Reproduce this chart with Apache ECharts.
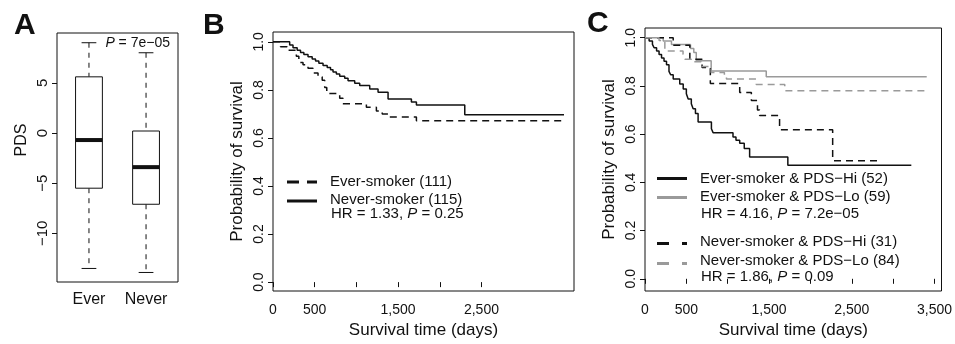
<!DOCTYPE html>
<html>
<head>
<meta charset="utf-8">
<script src="https://cdn.jsdelivr.net/npm/echarts@6/dist/echarts.min.js"></script>
<style>
  html, body { margin: 0; padding: 0; background: #fff; }
  #chart { width: 955px; height: 344px; }
</style>
</head>
<body>
<div id="chart"></div>
<script>
// ---- panel A: PDS boxplots ----
const groups = ['Ever', 'Never'];
const whiskerLow = [-13.5, -13.9];
const q1 = [-5.5, -7.1];
const median = [-0.7, -3.4];
const q3 = [5.6, 0.2];
const whiskerHigh = [9.0, 8.0];
const pdsTicks = [-10, -5, 0, 5];

// ---- panel B: KM by smoking status ----
const everTimes = [0, 90, 170, 280, 310, 360, 420, 480, 540, 590, 620, 645, 800, 840, 1120, 1240, 1310, 1380, 1720, 3490];
const everSurv  = [1, 0.98, 0.965, 0.94, 0.914, 0.905, 0.89, 0.87, 0.855, 0.84, 0.81, 0.785, 0.765, 0.742, 0.728, 0.712, 0.70, 0.687, 0.672, 0.672];
const neverTimes = [0, 200, 240, 290, 330, 370, 420, 470, 510, 550, 600, 650, 690, 720, 760, 800, 860, 900, 980, 1040, 1160, 1260, 1380, 1660, 1720, 2300, 3490];
const neverSurv  = [1, 0.987, 0.975, 0.965, 0.956, 0.947, 0.938, 0.929, 0.92, 0.911, 0.902, 0.893, 0.884, 0.875, 0.866, 0.857, 0.848, 0.838, 0.828, 0.818, 0.804, 0.79, 0.762, 0.75, 0.737, 0.697, 0.697];

// ---- panel C: KM by smoking status and PDS ----
const everHiTimes = [0, 50, 90, 110, 140, 170, 200, 230, 260, 290, 310, 341, 420, 462, 500, 522, 560, 582, 610, 642, 803, 823, 1064, 1100, 1145, 1200, 1265, 1727, 3220];
const everHiSurv  = [1, 0.986, 0.972, 0.958, 0.945, 0.93, 0.916, 0.902, 0.888, 0.86, 0.846, 0.828, 0.808, 0.787, 0.767, 0.746, 0.726, 0.705, 0.685, 0.65, 0.622, 0.606, 0.588, 0.575, 0.562, 0.54, 0.505, 0.471, 0.471];
const everLoTimes = [0, 220, 320, 550, 590, 620, 800, 1466, 3406];
const everLoSurv  = [1, 0.986, 0.972, 0.955, 0.938, 0.904, 0.862, 0.838, 0.838];
const neverHiTimes = [0, 341, 542, 690, 790, 1145, 1286, 1360, 1386, 1627, 2269, 2860];
const neverHiSurv  = [1, 0.968, 0.91, 0.876, 0.81, 0.773, 0.739, 0.70, 0.677, 0.618, 0.49, 0.49];
const neverLoTimes = [0, 170, 240, 460, 481, 560, 680, 800, 960, 985, 1345, 1690, 3414];
const neverLoSurv  = [1, 0.988, 0.945, 0.93, 0.91, 0.9, 0.88, 0.855, 0.84, 0.828, 0.806, 0.78, 0.78];

const survTicks = [0, 0.2, 0.4, 0.6, 0.8, 1.0];
const dayTicksB = [0, 500, 1000, 1500, 2000, 2500];
const dayLabelsB = [0, 500, 1500, 2500];
const dayTicksC = [0, 500, 1000, 1500, 2000, 2500, 3000, 3500];
const dayLabelsC = [0, 500, 1500, 2500, 3500];

const FONT = 'Liberation Sans, Arial, Helvetica, sans-serif';
const INK = '#111';
const GREY = '#9a9a9a';
const BOX_W = 0.47;

const pairs = (t, s) => t.map((v, i) => [v, s[i]]);
const minus = v => (v < 0 ? '\u2212' + Math.abs(v) : String(v));
const comma = v => v.toLocaleString('en-US');

function yAxisKM(idx, min, max) {
  return {
    gridIndex: idx, type: 'value', min: min, max: max,
    name: 'Probability of survival', nameLocation: 'middle', nameGap: 27,
    nameTextStyle: { fontFamily: FONT, fontSize: 17, color: INK },
    axisLine: { show: false },
    axisTick: { show: true, length: 5, lineStyle: { color: INK }, customValues: survTicks },
    axisLabel: { rotate: 90, margin: 7, fontFamily: FONT, fontSize: 14, color: INK,
                 customValues: survTicks, formatter: v => v.toFixed(1) },
    splitLine: { show: false }
  };
}
function xAxisKM(idx, max, ticks, labels) {
  return {
    gridIndex: idx, type: 'value', min: 0, max: max,
    name: 'Survival time (days)', nameLocation: 'middle', nameGap: 31,
    nameTextStyle: { fontFamily: FONT, fontSize: 17, color: INK },
    axisLine: { show: false },
    axisTick: { show: true, length: 5, lineStyle: { color: INK }, customValues: ticks },
    axisLabel: { margin: 12, fontFamily: FONT, fontSize: 14, color: INK,
                 customValues: labels, formatter: comma },
    splitLine: { show: false }
  };
}
function km(name, xi, times, surv, color, dashed) {
  return {
    name: name, type: 'line', xAxisIndex: xi, yAxisIndex: xi, step: 'end',
    data: pairs(times, surv), showSymbol: false, symbol: 'none', silent: true,
    lineStyle: { color: color, width: 1.5, type: dashed ? [7, 5] : 'solid' }
  };
}

function txt(x, y, text, opts) {
  opts = opts || {};
  return {
    type: 'text', x: x, y: y, rotation: opts.rotation || 0,
    style: {
      text: text, fill: INK,
      font: (opts.weight || 'normal') + ' ' + (opts.size || 15) + 'px ' + FONT,
      textAlign: opts.align || 'left', align: opts.align || 'left',
      textVerticalAlign: 'middle', verticalAlign: 'middle',
      rich: { i: { fontStyle: 'italic', fontSize: opts.size || 15, fontFamily: FONT, fill: INK } }
    }
  };
}
function sample(x, y, color, dash) {
  return {
    type: 'line', shape: { x1: x, y1: y, x2: x + 30, y2: y },
    style: { stroke: color, lineWidth: 3, lineDash: dash || null }
  };
}

const boxData = groups.map((g, i) => [i + 1, whiskerLow[i], q1[i], median[i], q3[i], whiskerHigh[i]]);

const option = {
  animation: false,
  backgroundColor: '#fff',
  grid: [
    { left: 57, top: 33, width: 121, height: 249, show: true, borderColor: INK, borderWidth: 1, backgroundColor: 'transparent' },
    { left: 273, top: 32, width: 301, height: 262, show: true, borderColor: INK, borderWidth: 1, backgroundColor: 'transparent' },
    { left: 645, top: 28, width: 298, height: 265, show: true, borderColor: INK, borderWidth: 1, backgroundColor: 'transparent' }
  ],
  xAxis: [
    {
      gridIndex: 0, type: 'value', min: 0.44, max: 2.56,
      axisLine: { show: false },
      axisTick: { show: true, length: 5, lineStyle: { color: INK }, customValues: [1, 2] },
      axisLabel: { margin: 10, fontFamily: FONT, fontSize: 16, color: INK,
                   customValues: [1, 2], formatter: v => groups[v - 1] },
      splitLine: { show: false }
    },
    xAxisKM(1, 3610, dayTicksB, dayLabelsB),
    xAxisKM(2, 3585, dayTicksC, dayLabelsC)
  ],
  yAxis: [
    {
      gridIndex: 0, type: 'value', min: -14.85, max: 9.97,
      axisLine: { show: false },
      axisTick: { show: true, length: 5, lineStyle: { color: INK }, customValues: pdsTicks },
      axisLabel: { rotate: 90, margin: 7, fontFamily: FONT, fontSize: 15, color: INK,
                   customValues: pdsTicks, formatter: minus },
      splitLine: { show: false }
    },
    yAxisKM(1, -0.037, 1.041),
    yAxisKM(2, -0.0506, 1.04)
  ],
  series: [
    {
      type: 'custom', xAxisIndex: 0, yAxisIndex: 0, silent: true,
      data: boxData,
      renderItem: function (params, api) {
        const x = api.value(0);
        const lo = api.coord([x, api.value(1)]);
        const b1 = api.coord([x, api.value(2)]);
        const md = api.coord([x, api.value(3)]);
        const b3 = api.coord([x, api.value(4)]);
        const hi = api.coord([x, api.value(5)]);
        const half = api.size([BOX_W, 0])[0] / 2;
        const cap = half * 0.55;
        const cx = md[0];
        const dash = { stroke: INK, lineWidth: 1, lineDash: [5, 5] };
        const solid = { stroke: INK, lineWidth: 1 };
        return {
          type: 'group',
          children: [
            { type: 'line', shape: { x1: cx, y1: hi[1], x2: cx, y2: b3[1] }, style: dash },
            { type: 'line', shape: { x1: cx, y1: b1[1], x2: cx, y2: lo[1] }, style: dash },
            { type: 'line', shape: { x1: cx - cap, y1: hi[1], x2: cx + cap, y2: hi[1] }, style: solid },
            { type: 'line', shape: { x1: cx - cap, y1: lo[1], x2: cx + cap, y2: lo[1] }, style: solid },
            { type: 'rect', shape: { x: cx - half, y: b3[1], width: half * 2, height: b1[1] - b3[1] },
              style: { fill: '#fff', stroke: INK, lineWidth: 1 } },
            { type: 'line', shape: { x1: cx - half, y1: md[1], x2: cx + half, y2: md[1] },
              style: { stroke: INK, lineWidth: 4 } }
          ]
        };
      }
    },
    km('Ever-smoker', 1, everTimes, everSurv, INK, true),
    km('Never-smoker', 1, neverTimes, neverSurv, INK, false),
    km('Ever-smoker & PDS-Hi', 2, everHiTimes, everHiSurv, INK, false),
    km('Ever-smoker & PDS-Lo', 2, everLoTimes, everLoSurv, GREY, false),
    km('Never-smoker & PDS-Hi', 2, neverHiTimes, neverHiSurv, INK, true),
    km('Never-smoker & PDS-Lo', 2, neverLoTimes, neverLoSurv, GREY, true)
  ],
  graphic: [
    txt(14, 26, 'A', { size: 30, weight: 'bold' }),
    txt(203, 26, 'B', { size: 30, weight: 'bold' }),
    txt(587, 24, 'C', { size: 30, weight: 'bold' }),
    txt(22, 140, 'PDS', { size: 16, align: 'center', rotation: Math.PI / 2 }),
    txt(170, 43, '{i|P} = 7e\u221205', { size: 14, align: 'right' }),

    sample(287, 182, INK, [12, 8]),
    sample(287, 201, INK),
    txt(330, 182, 'Ever-smoker (111)'),
    txt(330, 200, 'Never-smoker (115)'),
    txt(331, 214, 'HR = 1.33, {i|P} = 0.25'),

    sample(657, 178.5, INK),
    sample(657, 197.5, GREY),
    sample(657, 243.5, INK, [12, 13]),
    sample(657, 263.5, GREY, [12, 13]),
    txt(700, 179, 'Ever-smoker & PDS\u2212Hi (52)'),
    txt(700, 197, 'Ever-smoker & PDS\u2212Lo (59)'),
    txt(701, 214, 'HR = 4.16, {i|P} = 7.2e\u221205'),
    txt(700, 242, 'Never-smoker & PDS\u2212Hi (31)'),
    txt(700, 261, 'Never-smoker & PDS\u2212Lo (84)'),
    txt(701, 277, 'HR = 1.86, {i|P} = 0.09')
  ]
};

const chart = echarts.init(document.getElementById('chart'), null, { renderer: 'canvas' });
chart.setOption(option);
</script>
</body>
</html>
